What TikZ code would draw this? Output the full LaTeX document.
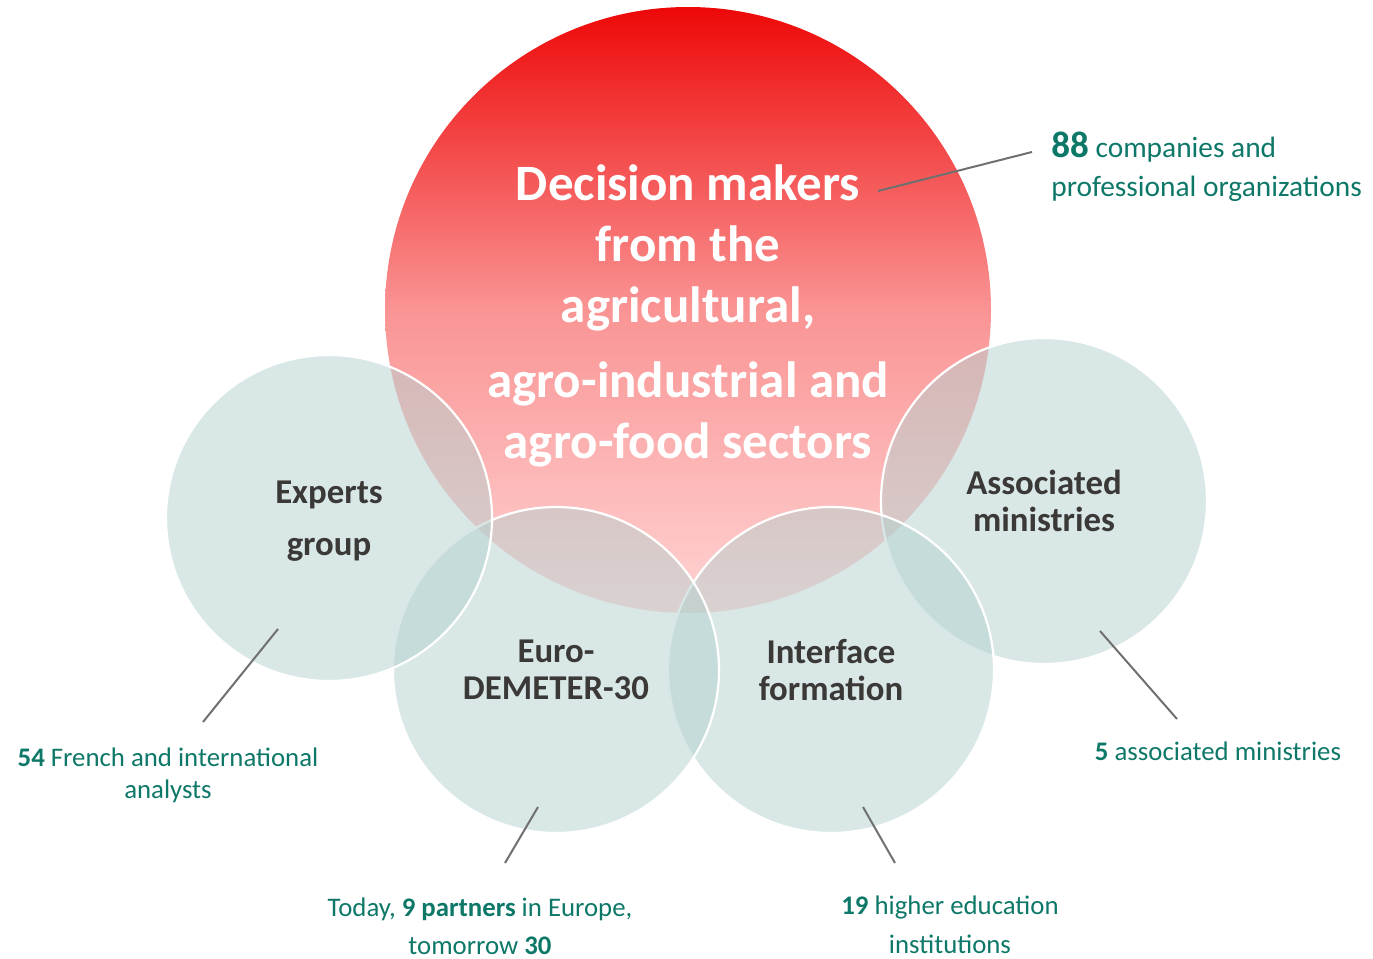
\documentclass[tikz,border=0pt]{standalone}
\usepackage{fontspec}
\setmainfont{Carlito}
\usepackage{tikz}

\definecolor{bubblefill}{RGB}{179,209,207}
\definecolor{labelgrey}{RGB}{59,56,56}
\definecolor{notegreen}{RGB}{14,120,104}
\definecolor{leadgrey}{RGB}{112,112,112}
\definecolor{topred}{RGB}{238,8,8}
\definecolor{midred}{RGB}{250,148,148}
\definecolor{palered}{RGB}{255,212,212}

\begin{document}
\begin{tikzpicture}[x=0.5pt,y=-0.5pt,
  bubble/.style={circle,draw=white,line width=1.1pt,fill=bubblefill,fill opacity=0.5,text opacity=1,minimum size=163pt,inner sep=0pt,text=labelgrey,font=\bfseries\fontsize{17.4}{18.5}\selectfont,align=center},
  bigbubble/.style={circle,top color=topred,bottom color=palered,middle color=midred,minimum size=303pt,inner sep=0pt},
  bigtext/.style={text=white,font=\bfseries\fontsize{25.5}{30.5}\selectfont,align=center,inner sep=0pt},
  note/.style={text=notegreen,font=\fontsize{13.4}{16}\selectfont,align=center,inner sep=0pt},
  lead/.style={draw=leadgrey,line width=1pt}]
\newcommand{\num}[1]{\textbf{#1}}
\useasboundingbox (0,0) rectangle (1373,959);
% main circle
\node[bigbubble] (makers) at (688,310) {};
\node[bigtext] (makerstext) at (688,316) {Decision makers\\from the\\agricultural,\\[7pt]agro-industrial and\\agro-food sectors};
% the four small circles, back to front
\node[bubble] (ministries) at (1044,501) {Associated\\ministries};
\node[bubble] (interface) at (831,670) {Interface\\formation};
\node[bubble] (demeter) at (556,670) {Euro-\\DEMETER-30};
\node[bubble] (experts) at (329,518) {};
\node[bubble,draw=none,fill=none] (expertstext) at (329,521) {Experts\\[7.5pt]group};
% figures
\node[note,anchor=west,align=left,font=\fontsize{14.7}{17}\selectfont] (n88) at (1051,167) {{\fontsize{18.5}{19}\selectfont\num{88}} companies and\\[2.5pt]professional organizations};
\node[note] (n54) at (168,775) {\num{54} French and international\\analysts};
\node[note] (n9) at (480,926) {Today, \num{9 partners} in Europe,\\[3pt]tomorrow \num{30}};
\node[note] (n19) at (950,925) {\num{19} higher education\\[3.5pt]institutions};
\node[note] (n5) at (1218,751) {\num{5} associated ministries};
% leader lines
\coordinate (makersA) at (878,191);
\coordinate (makersB) at (1032,152);
\coordinate (expertsA) at (278,629);
\coordinate (expertsB) at (203,722);
\coordinate (demeterA) at (538,807);
\coordinate (demeterB) at (505,863);
\coordinate (interfaceA) at (863,807);
\coordinate (interfaceB) at (895,863);
\coordinate (ministriesA) at (1100,631);
\coordinate (ministriesB) at (1177,719);
\draw[lead] (makersA) -- (makersB);
\draw[lead] (expertsA) -- (expertsB);
\draw[lead] (demeterA) -- (demeterB);
\draw[lead] (interfaceA) -- (interfaceB);
\draw[lead] (ministriesA) -- (ministriesB);
\end{tikzpicture}
\end{document}
